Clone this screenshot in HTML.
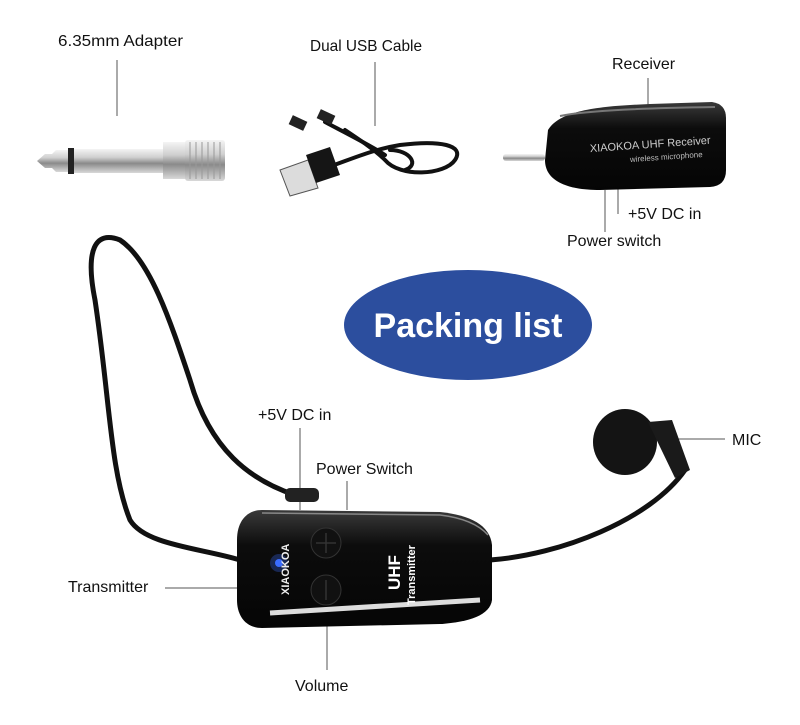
<!DOCTYPE html>
<html><head><meta charset="utf-8"><style>
html,body{margin:0;padding:0;background:#fff;}
svg{display:block}
text{font-family:"Liberation Sans",sans-serif;}
</style></head><body>
<svg width="800" height="725" viewBox="0 0 800 725" xmlns="http://www.w3.org/2000/svg">
<defs>
<linearGradient id="met" x1="0" y1="0" x2="0" y2="1">
<stop offset="0" stop-color="#f4f4f4"/><stop offset="0.35" stop-color="#cfcfcf"/><stop offset="0.6" stop-color="#8a8a8a"/><stop offset="1" stop-color="#d8d8d8"/></linearGradient>
<linearGradient id="blk" x1="0" y1="0" x2="0" y2="1">
<stop offset="0" stop-color="#3a3a3a"/><stop offset="0.3" stop-color="#0c0c0c"/><stop offset="1" stop-color="#050505"/></linearGradient>
</defs>
<g font-size="16" fill="#111">
<text x="58" y="46" textLength="125" lengthAdjust="spacingAndGlyphs">6.35mm Adapter</text>
<text x="310" y="51" textLength="112" lengthAdjust="spacingAndGlyphs">Dual USB Cable</text>
<text x="612" y="69">Receiver</text>
<text x="628" y="219">+5V DC in</text>
<text x="567" y="246">Power switch</text>
<text x="258" y="420">+5V DC in</text>
<text x="316" y="474">Power Switch</text>
<text x="732" y="445">MIC</text>
<text x="68" y="592">Transmitter</text>
<text x="295" y="691">Volume</text>
</g>
<g stroke="#555" stroke-width="1" fill="none">
<line x1="117" y1="60" x2="117" y2="116"/>
<line x1="375" y1="62" x2="375" y2="126"/>
<line x1="648" y1="78" x2="648" y2="106"/>
<line x1="618" y1="186" x2="618" y2="214"/>
<line x1="605" y1="190" x2="605" y2="232"/>
<line x1="300" y1="428" x2="300" y2="510"/>
<line x1="347" y1="481" x2="347" y2="510"/>
<line x1="678" y1="439" x2="725" y2="439"/>
<line x1="165" y1="588" x2="266" y2="588"/>
<line x1="327" y1="605" x2="327" y2="670"/>
</g>
<!-- adapter -->
<path d="M37 161 L45 154 L52 154 L56 150 L68 150 L68 172 L56 172 L52 168 L45 168 Z" fill="url(#met)"/>
<rect x="68" y="148" width="6" height="26" fill="#222"/>
<rect x="74" y="149" width="92" height="24" fill="url(#met)"/>
<rect x="163" y="142" width="24" height="37" fill="url(#met)"/>
<rect x="185" y="140" width="40" height="41" rx="3" fill="url(#met)"/>
<g stroke="#999" stroke-width="1"><line x1="190" y1="142" x2="190" y2="179"/><line x1="196" y1="142" x2="196" y2="179"/><line x1="202" y1="142" x2="202" y2="179"/><line x1="208" y1="142" x2="208" y2="179"/><line x1="214" y1="142" x2="214" y2="179"/><line x1="220" y1="142" x2="220" y2="179"/></g>
<!-- usb cable -->
<g fill="none" stroke="#111" stroke-width="4" stroke-linecap="round">
<path d="M320 170 C350 160 370 150 400 145 C440 140 465 145 455 160 C445 175 400 178 385 160 C375 150 360 140 345 130"/>
<path d="M385 155 C370 145 340 130 325 122"/>
<path d="M390 150 C410 150 420 165 405 170"/>
</g>
<path d="M280 170 L308 160 L318 188 L290 196 Z" fill="#dcdcdc" stroke="#555"/>
<path d="M306 155 L330 147 L340 175 L316 183 Z" fill="#151515"/>
<rect x="318" y="112" width="16" height="10" transform="rotate(25 326 117)" fill="#222"/>
<rect x="290" y="118" width="16" height="10" transform="rotate(25 298 123)" fill="#222"/>
<!-- receiver -->
<rect x="503" y="154" width="42" height="7" rx="3" fill="url(#met)"/>
<path d="M548 130 C560 110 600 106 650 104 L712 102 Q726 104 726 118 L726 170 Q726 186 710 187 L600 190 C565 190 545 180 545 160 Z" fill="url(#blk)"/>
<path d="M560 116 C590 110 650 108 715 107" stroke="#777" stroke-width="2" fill="none"/>
<text x="590" y="150" font-size="11" fill="#ccc" transform="rotate(-4 620 150)">XIAOKOA  UHF Receiver</text>
<text x="630" y="160" font-size="8" fill="#bbb" transform="rotate(-4 660 160)">wireless microphone</text>
<!-- packing list -->
<ellipse cx="468" cy="325" rx="124" ry="55" fill="#2c4e9e"/>
<text x="468" y="337" font-size="34" font-weight="bold" fill="#fff" text-anchor="middle">Packing list</text>
<!-- headset wire -->
<g fill="none" stroke="#111" stroke-width="5" stroke-linecap="round">
<path d="M295 495 C250 480 210 450 190 380 C170 320 150 260 120 240 C95 230 85 250 95 300 C110 400 110 470 130 520 C145 545 200 548 240 560"/>
<path d="M490 560 C560 555 650 520 685 470"/>
</g>
<rect x="285" y="488" width="34" height="14" rx="5" fill="#222"/>
<!-- mic -->
<ellipse cx="625" cy="442" rx="32" ry="33" fill="#141414"/>
<path d="M648 422 L672 420 L690 470 L675 478 Z" fill="#1a1a1a"/>
<!-- transmitter -->
<path d="M262 510 L440 512 C470 515 490 525 492 545 L492 600 C490 615 470 622 440 624 L262 628 C245 628 237 615 237 600 L237 540 C237 520 248 510 262 510 Z" fill="url(#blk)"/>
<path d="M270 613 L480 600" stroke="#ddd" stroke-width="5"/>
<path d="M262 513 L440 515 C465 518 480 526 488 535" stroke="#888" stroke-width="1.5" fill="none"/>
<circle cx="326" cy="543" r="15" fill="#111" stroke="#333"/>
<circle cx="326" cy="590" r="15" fill="#111" stroke="#333"/>
<path d="M316 543 H336 M326 533 V553 M326 580 V600" stroke="#333" stroke-width="1.5"/>
<circle cx="279" cy="563" r="4" fill="#3a6cff"/>
<circle cx="279" cy="563" r="9" fill="#3a6cff" opacity="0.3"/>
<text x="0" y="0" font-size="11" font-weight="bold" fill="#eee" transform="translate(289 595) rotate(-90)">XIAOKOA</text>
<text x="0" y="0" font-size="17" font-weight="bold" fill="#fff" transform="translate(400 590) rotate(-90)">UHF</text>
<text x="0" y="0" font-size="11" font-weight="bold" fill="#fff" transform="translate(415 605) rotate(-90)">Transmitter</text>
</svg>
</body></html>
